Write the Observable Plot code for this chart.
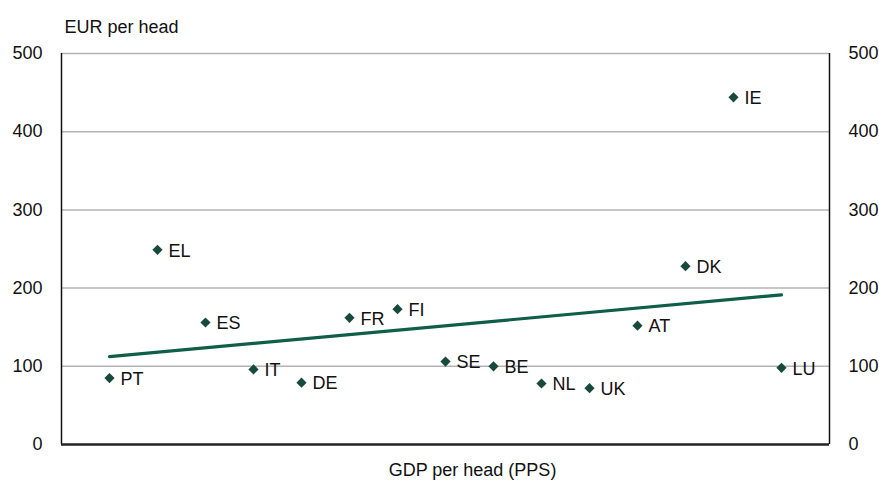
<!DOCTYPE html>
<html>
<head>
<meta charset="utf-8">
<script src="https://cdn.jsdelivr.net/npm/d3@7"></script>
<script src="https://cdn.jsdelivr.net/npm/@observablehq/plot@0.6"></script>
<style>
  html, body { margin: 0; padding: 0; background: #fff; }
</style>
</head>
<body>
<div id="chart"></div>
<script>
const countries = ["PT","EL","ES","IT","DE","FR","FI","SE","BE","NL","UK","AT","DK","IE","LU"];
const rank = [1,2,3,4,5,6,7,8,9,10,11,12,13,14,15];
const eurPerHead = [85,249,156,96,79,162,173,106,100,78,72,152,228,444,98];
const yTicks = [0,100,200,300,400,500];
const gridTicks = [100,200,300,400,500];

const data = countries.map((c, i) => ({country: c, x: rank[i], y: eurPerHead[i]}));

const green = "#174a3a";
const lineGreen = "#0f5e48";

const chart = Plot.plot({
  width: 879,
  height: 486,
  marginLeft: 61,
  marginRight: 50,
  marginTop: 53,
  marginBottom: 42,
  style: {fontFamily: "'Liberation Sans', Arial, sans-serif", fontSize: "18px", color: "#111", background: "#fff"},
  x: {domain: [0, 16], axis: null},
  y: {domain: [0, 500], axis: null},
  marks: [
    Plot.ruleY(gridTicks, {stroke: "#b3b3b3", strokeWidth: 1.5}),
    Plot.ruleX([0, 16], {stroke: "#111", strokeWidth: 1.5}),
    Plot.ruleY([0], {stroke: "#222", strokeWidth: 2.5}),
    Plot.axisY({anchor: "left", ticks: yTicks, tickSize: 0, tickPadding: 19, label: null, fontSize: 18}),
    Plot.axisY({anchor: "right", ticks: yTicks, tickSize: 0, tickPadding: 19, label: null, fontSize: 18}),
    Plot.linearRegressionY(data, {x: "x", y: "y", ci: 0, stroke: lineGreen, strokeWidth: 3.2}),
    Plot.dot(data, {x: "x", y: "y", symbol: "diamond2", r: 4.6, fill: green, stroke: "none"}),
    Plot.text(data, {x: "x", y: "y", text: "country", textAnchor: "start", dx: 11, dy: 1, fill: "#111", fontSize: 18}),
    Plot.text(["EUR per head"], {frameAnchor: "top-left", text: d => d, textAnchor: "start", dx: 3, dy: -33, fill: "#111", fontSize: 18}),
    Plot.text(["GDP per head (PPS)"], {frameAnchor: "bottom", text: d => d, dx: 27, dy: 31, fill: "#111", fontSize: 18})
  ]
});
document.getElementById("chart").appendChild(chart);
</script>
</body>
</html>
